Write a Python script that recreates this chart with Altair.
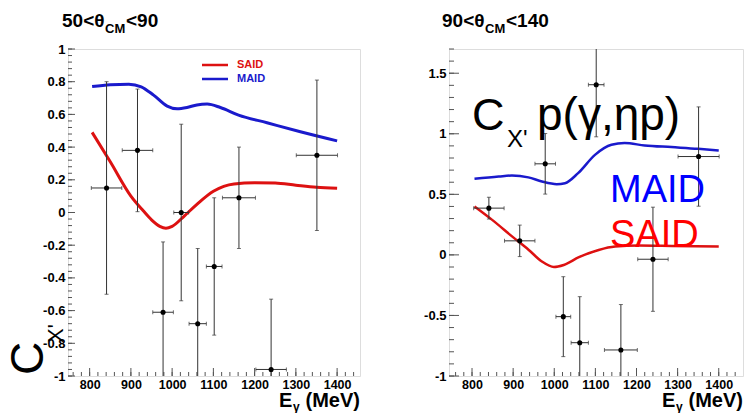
import altair as alt
import pandas as pd

FONT = "Liberation Sans"

# ---- data -------------------------------------------------------------
E_pts = [841, 916, 978, 1022, 1062, 1102, 1162, 1240, 1351]
E_err = [37, 37, 25, 18, 21, 19, 40, 37, 50]

L_y = [0.15, 0.38, -0.61, 0.00, -0.68, -0.33, 0.09, -0.96, 0.35]
L_yerr = [0.65, 0.375, 0.43, 0.54, 0.46, 0.42, 0.31, 0.43, 0.46]

R_y = [0.386, 0.116, 0.752, -0.51, -0.725, 1.405, -0.785, -0.036, 0.812]
R_yerr = [0.09, 0.13, 0.25, 0.33, 0.38, 0.43, 0.375, 0.43, 0.41]

L_said_E = [806, 850, 900, 930, 950, 970, 985, 1000, 1030, 1060, 1100, 1150, 1200, 1250, 1300, 1350, 1400]
L_said_v = [0.49, 0.31, 0.10, 0.01, -0.045, -0.085, -0.097, -0.085, -0.02, 0.05, 0.13, 0.175, 0.182, 0.18, 0.167, 0.155, 0.148]
L_maid_E = [806, 850, 895, 925, 955, 988, 1012, 1036, 1060, 1085, 1117, 1161, 1230, 1311, 1400]
L_maid_v = [0.77, 0.781, 0.785, 0.769, 0.718, 0.651, 0.634, 0.642, 0.658, 0.663, 0.642, 0.596, 0.549, 0.494, 0.438]

R_said_E = [806, 849, 898, 938, 970, 999, 1023, 1060, 1108, 1148, 1205, 1286, 1400]
R_said_v = [0.40, 0.289, 0.151, 0.041, -0.055, -0.10, -0.083, -0.019, 0.041, 0.069, 0.077, 0.074, 0.069]
R_maid_E = [806, 865, 897, 937, 970, 1006, 1026, 1058, 1099, 1139, 1171, 1220, 1285, 1350, 1400]
R_maid_v = [0.628, 0.647, 0.655, 0.64, 0.606, 0.584, 0.592, 0.675, 0.826, 0.909, 0.923, 0.904, 0.89, 0.876, 0.862]

X_major = [800, 900, 1000, 1100, 1200, 1300, 1400]
X_minor = list(range(760, 1441, 20))
L_y_major = [-1, -0.8, -0.6, -0.4, -0.2, 0, 0.2, 0.4, 0.6, 0.8, 1]
L_y_minor = [round(-1 + 0.04 * i, 2) for i in range(51)]
R_y_major = [-1, -0.5, 0, 0.5, 1, 1.5]
R_y_minor = [round(-1 + 0.1 * i, 1) for i in range(28)]

DUMMY = pd.DataFrame({"d": [0]})
H = 327


def txt(text, x, y, size, color="black", weight="normal", align="left",
        baseline="alphabetic", angle=None):
    kw = dict(text=text, font=FONT, fontSize=size, color=color,
              fontWeight=weight, align=align, baseline=baseline)
    if angle is not None:
        kw["angle"] = angle
    return alt.Chart(DUMMY).mark_text(**kw).encode(x=alt.value(x), y=alt.value(y))


def panel(W, xdom, ydom, ymaj, ymin, ytick_len, yv, yerr, said, maid,
          said_col, maid_col, lw, extras):
    xs = alt.Scale(domain=xdom, nice=False, zero=False)
    ys = alt.Scale(domain=ydom, nice=False, zero=False)
    xaxis = alt.Axis(values=X_major, labelExpr="'' + datum.value", ticks=False,
                     domain=False, grid=False, labelFont=FONT, labelFontWeight="bold",
                     labelFontSize=12.5, labelColor="black", labelPadding=2,
                     title=None, labelFlush=False, labelOverlap=False)
    yaxis = alt.Axis(values=ymaj, labelExpr="'' + datum.value", ticks=False,
                     domain=False, grid=False, labelFont=FONT, labelFontWeight="bold",
                     labelFontSize=13, labelColor="black", labelPadding=3,
                     title=None, labelFlush=False, labelOverlap=False)

    pts = pd.DataFrame({
        "E": E_pts,
        "xlo": [e - d for e, d in zip(E_pts, E_err)],
        "xhi": [e + d for e, d in zip(E_pts, E_err)],
        "y": yv,
        "ylo": [v - d for v, d in zip(yv, yerr)],
        "yhi": [v + d for v, d in zip(yv, yerr)],
    })
    curves = pd.concat([
        pd.DataFrame({"E": said[0], "v": said[1], "model": "SAID"}),
        pd.DataFrame({"E": maid[0], "v": maid[1], "model": "MAID"}),
    ])

    X = lambda f: alt.X(f, type="quantitative", scale=xs, axis=xaxis)
    Y = lambda f: alt.Y(f, type="quantitative", scale=ys, axis=yaxis)

    lines = alt.Chart(curves).mark_line(strokeWidth=lw, interpolate="monotone", clip=True).encode(
        x=X("E"), y=Y("v"),
        color=alt.Color("model:N", scale=alt.Scale(domain=["SAID", "MAID"], range=[said_col, maid_col]), legend=None),
        detail="model:N",
    )
    vbar = alt.Chart(pts).mark_rule(color="#333", strokeWidth=1, clip=True).encode(
        x=X("E"), y=Y("ylo"), y2="yhi")
    hbar = alt.Chart(pts).mark_rule(color="#333", strokeWidth=1, clip=True).encode(
        x=X("xlo"), x2="xhi", y=Y("y"))
    cap_lo = alt.Chart(pts).mark_tick(color="#333", thickness=1, size=4, orient="horizontal", clip=True).encode(
        x=X("E"), y=Y("ylo"))
    cap_hi = alt.Chart(pts).mark_tick(color="#333", thickness=1, size=4, orient="horizontal", clip=True).encode(
        x=X("E"), y=Y("yhi"))
    cap_l = alt.Chart(pts).mark_tick(color="#333", thickness=1, size=4, orient="vertical", clip=True).encode(
        x=X("xlo"), y=Y("y"))
    cap_r = alt.Chart(pts).mark_tick(color="#333", thickness=1, size=4, orient="vertical", clip=True).encode(
        x=X("xhi"), y=Y("y"))
    dots = alt.Chart(pts).mark_circle(color="black", opacity=1, size=26).encode(x=X("E"), y=Y("y"))

    ymaj_df = pd.DataFrame({"v": ymaj})
    ymin_df = pd.DataFrame({"v": ymin})
    xmaj_df = pd.DataFrame({"v": X_major})
    xmin_df = pd.DataFrame({"v": X_minor})
    tk = dict(color="#555", strokeWidth=1)
    t1 = alt.Chart(ymaj_df).mark_rule(**tk).encode(y=Y("v"), x=alt.value(0), x2=alt.value(ytick_len[0]))
    t2 = alt.Chart(ymin_df).mark_rule(**tk).encode(y=Y("v"), x=alt.value(0), x2=alt.value(ytick_len[1]))
    t3 = alt.Chart(xmaj_df).mark_rule(**tk).encode(x=X("v"), y=alt.value(H), y2=alt.value(H - 8))
    t4 = alt.Chart(xmin_df).mark_rule(**tk).encode(x=X("v"), y=alt.value(H), y2=alt.value(H - 4))

    # x-axis title  E_gamma (MeV)
    xt = [
        txt("E", W - 81, 358, 20, weight="bold"),
        txt("γ", W - 67, 362, 12, weight="bold"),
        txt("(MeV)", W, 358, 20, weight="bold", align="right"),
    ]
    layers = [t2, t1, t4, t3, lines, vbar, hbar, cap_lo, cap_hi, cap_l, cap_r, dots] + xt + extras
    return alt.layer(*layers).properties(width=W, height=H)


# ---- left panel -------------------------------------------------------
WL = 292
left_extra = [
    txt("50<θ", -6, -22, 19, weight="bold"),
    txt("CM", 37, -16, 13, weight="bold"),
    txt("<90", 58, -22, 19, weight="bold"),
    alt.Chart(DUMMY).mark_rule(color="#dd1111", strokeWidth=2.5).encode(
        x=alt.value(134), x2=alt.value(160), y=alt.value(16)),
    alt.Chart(DUMMY).mark_rule(color="#1a1acc", strokeWidth=2.5).encode(
        x=alt.value(134), x2=alt.value(160), y=alt.value(30)),
    txt("SAID", 169, 16, 11, color="#dd1111", weight="bold", baseline="middle"),
    txt("MAID", 169, 30, 11, color="#1a1acc", weight="bold", baseline="middle"),
    txt("C", -25, 326, 46, angle=270),
    txt("X'", -5, 294, 22, angle=270),
]
left = panel(WL, [747.5, 1455.5], [-1, 1], L_y_major, L_y_minor, (7, 4),
             L_y, L_yerr, (L_said_E, L_said_v), (L_maid_E, L_maid_v),
             "#dd1111", "#1a1acc", 3, left_extra)

# ---- right panel ------------------------------------------------------
WR = 294
right_extra = [
    txt("90<θ", -7, -22, 19, weight="bold"),
    txt("CM", 36, -16, 13, weight="bold"),
    txt("<140", 57, -22, 19, weight="bold"),
    txt("C", 23, 81, 45),
    txt("X'", 58, 98, 24),
    txt("p(γ,ηp)", 88, 81, 46),
    txt("MAID", 161, 153, 38, color="#0000ff"),
    txt("SAID", 161, 198, 38, color="#ff0000"),
]
right = panel(WR, [744, 1459], [-1, 1.7], R_y_major, R_y_minor, (10, 5),
              R_y, R_yerr, (R_said_E, R_said_v), (R_maid_E, R_maid_v),
              "#cc1818", "#1c1cb0", 2.5, right_extra)

chart = alt.hconcat(left, right, spacing=89, bounds="flush").properties(
    autosize=alt.AutoSizeParams(type="none"),
    padding={"left": 68, "top": 49, "right": 676, "bottom": 364},
).configure_view(stroke="#808080", strokeWidth=1).configure(background="white")

chart.save("out.html", embed_options={"renderer": "svg", "actions": False})
